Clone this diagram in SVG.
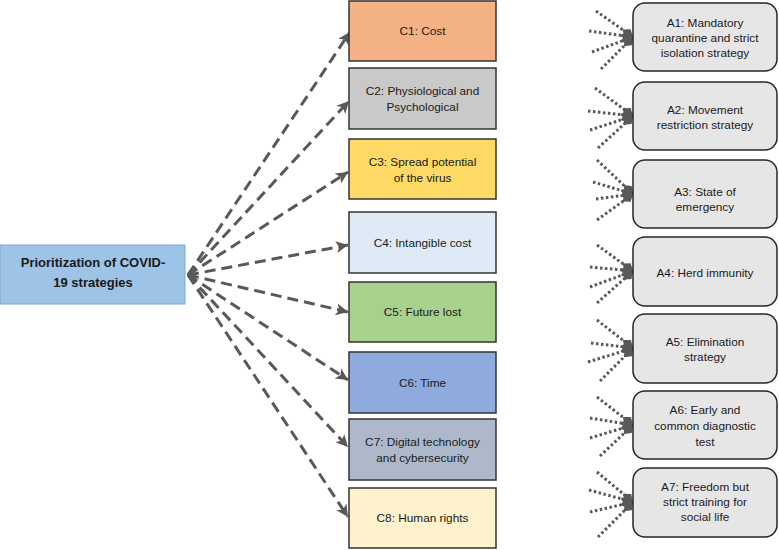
<svg xmlns="http://www.w3.org/2000/svg" width="779" height="550" viewBox="0 0 779 550">
<defs>
<marker id="arrow" markerUnits="userSpaceOnUse" markerWidth="14" markerHeight="14" refX="12" refY="6" orient="auto" viewBox="0 0 14 12">
<path d="M0,0 L12,6 L0,12 L3,6 Z" fill="#595959"/>
</marker>
<marker id="diamond" markerUnits="userSpaceOnUse" markerWidth="15" markerHeight="11" refX="14" refY="5.5" orient="auto" viewBox="0 0 15 11">
<path d="M1,5.5 L7.5,0.5 L14,5.5 L7.5,10.5 Z" fill="#595959"/>
</marker>
</defs>
<style>
text{font-family:"Liberation Sans",Arial,sans-serif;font-size:11.8px;fill:#1a1a1a;text-anchor:middle}
.title{font-weight:bold;font-size:13px}
.c{stroke:#333;stroke-width:1.5}
.a{fill:#E7E6E6;stroke:#262626;stroke-width:1.5}
.dash{fill:none;stroke:#595959;stroke-width:3;stroke-dasharray:11 6;marker-end:url(#arrow)}
.dot{fill:none;stroke:#595959;stroke-width:3;stroke-dasharray:2.5 2.5;marker-end:url(#diamond)}
</style>
<rect width="779" height="550" fill="#fff"/>
<g id="goal">
<rect x="0" y="245" width="185" height="59" fill="#9DC3E6" stroke="#7FA7D4" stroke-width="1"/>
<text class="title" x="93" y="266.5">Prioritization of COVID-</text>
<text class="title" x="93" y="286.5">19 strategies</text>
</g>
<g id="connectors">
<path class="dash" d="M188,275 L350,32"/>
<path class="dash" d="M188,275 L349,101"/>
<path class="dash" d="M188,275 L348,172"/>
<path class="dash" d="M188,275 L348,245"/>
<path class="dash" d="M188,275 L348,312"/>
<path class="dash" d="M188,275 L348,380"/>
<path class="dash" d="M188,275 L348,447"/>
<path class="dash" d="M188,275 L348,517"/>
<path class="dot" d="M596,11 L633,37"/><path class="dot" d="M589,31 L633,37"/><path class="dot" d="M592,52 L633,37"/><path class="dot" d="M601,69 L633,37"/>
<path class="dot" d="M595,88 L633,116"/><path class="dot" d="M588,111 L633,116"/><path class="dot" d="M590,130 L633,116"/><path class="dot" d="M598,148 L633,116"/>
<path class="dot" d="M597,160 L633,194"/><path class="dot" d="M593,182 L633,194"/><path class="dot" d="M596,199 L633,194"/><path class="dot" d="M597,220 L633,194"/>
<path class="dot" d="M597,245 L633,271"/><path class="dot" d="M590,267 L633,271"/><path class="dot" d="M590,287 L633,271"/><path class="dot" d="M597,303 L633,271"/>
<path class="dot" d="M597,320 L633,348"/><path class="dot" d="M591,343 L633,348"/><path class="dot" d="M588,362 L633,348"/><path class="dot" d="M600,381 L633,348"/>
<path class="dot" d="M597,397 L633,425"/><path class="dot" d="M590,418 L633,425"/><path class="dot" d="M590,438 L633,425"/><path class="dot" d="M600,456 L633,425"/>
<path class="dot" d="M597,472 L633,502"/><path class="dot" d="M589,490 L633,502"/><path class="dot" d="M590,512 L633,502"/><path class="dot" d="M598,537 L633,502"/>
</g>
<g id="C1"><rect class="c" x="349" y="1" width="147" height="60" fill="#F4B183"/><text x="422.5" y="35">C1: Cost</text></g>
<g id="C2"><rect class="c" x="349" y="68" width="147" height="61" fill="#C9C9C9"/><text x="422.5" y="95">C2: Physiological and</text><text x="422.5" y="111">Psychological</text></g>
<g id="C3"><rect class="c" x="349" y="139" width="147" height="60" fill="#FFD966"/><text x="422.5" y="165.5">C3: Spread potential</text><text x="422.5" y="181.5">of the virus</text></g>
<g id="C4"><rect class="c" x="349" y="212" width="147" height="61" fill="#DEEBF7"/><text x="422.5" y="246.5">C4: Intangible cost</text></g>
<g id="C5"><rect class="c" x="349" y="282" width="147" height="60" fill="#A9D18E"/><text x="422.5" y="316">C5: Future lost</text></g>
<g id="C6"><rect class="c" x="349" y="352" width="147" height="61" fill="#8FAADC"/><text x="422.5" y="386.5">C6: Time</text></g>
<g id="C7"><rect class="c" x="349" y="419" width="147" height="61" fill="#ADB9CA"/><text x="422.5" y="446">C7: Digital technology</text><text x="422.5" y="462">and cybersecurity</text></g>
<g id="C8"><rect class="c" x="349" y="488" width="147" height="60" fill="#FFF2CC"/><text x="422.5" y="522">C8: Human rights</text></g>
<g id="A1"><rect class="a" x="633" y="3" width="144" height="68" rx="12"/><text x="705" y="27">A1: Mandatory</text><text x="705" y="42">quarantine and strict</text><text x="705" y="57">isolation strategy</text></g>
<g id="A2"><rect class="a" x="633" y="82" width="144" height="68" rx="12"/><text x="705" y="114">A2: Movement</text><text x="705" y="129">restriction strategy</text></g>
<g id="A3"><rect class="a" x="633" y="160" width="144" height="68" rx="12"/><text x="705" y="196">A3: State of</text><text x="705" y="211">emergency</text></g>
<g id="A4"><rect class="a" x="633" y="237" width="144" height="69" rx="12"/><text x="705" y="277">A4: Herd immunity</text></g>
<g id="A5"><rect class="a" x="633" y="314" width="144" height="69" rx="12"/><text x="705" y="346">A5: Elimination</text><text x="705" y="361">strategy</text></g>
<g id="A6"><rect class="a" x="633" y="391" width="144" height="68" rx="12"/><text x="705" y="414">A6: Early and</text><text x="705" y="430">common diagnostic</text><text x="705" y="446">test</text></g>
<g id="A7"><rect class="a" x="633" y="468" width="144" height="69" rx="12"/><text x="705" y="491">A7: Freedom but</text><text x="705" y="506">strict training for</text><text x="705" y="521">social life</text></g>
</svg>
